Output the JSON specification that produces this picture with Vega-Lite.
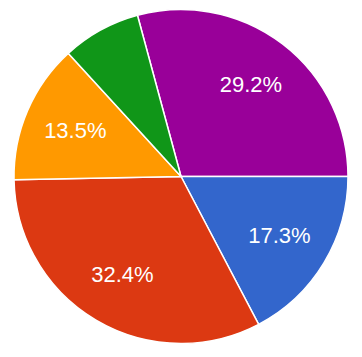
{
  "$schema": "https://vega.github.io/schema/vega-lite/v6.json",
  "width": 362,
  "height": 357,
  "autosize": {"type": "fit", "contains": "padding"},
  "padding": {"top": 0, "left": 0, "right": 0, "bottom": 4},
  "background": "white",
  "config": {"view": {"stroke": null}},
  "data": {
    "values": [
      {"idx": 1, "slice": "A", "value": 0.292},
      {"idx": 2, "slice": "B", "value": 0.173},
      {"idx": 3, "slice": "C", "value": 0.324},
      {"idx": 4, "slice": "D", "value": 0.135},
      {"idx": 5, "slice": "E", "value": 0.076}
    ]
  },
  "encoding": {
    "theta": {
      "field": "value",
      "type": "quantitative",
      "stack": true,
      "scale": {"range": [-0.2639, 6.0193]}
    },
    "order": {"field": "idx", "type": "quantitative"},
    "color": {
      "field": "slice",
      "type": "nominal",
      "legend": null,
      "scale": {
        "domain": ["A", "B", "C", "D", "E"],
        "range": ["#990099", "#3366cc", "#dc3912", "#ff9900", "#109618"]
      }
    }
  },
  "layer": [
    {
      "mark": {"type": "arc", "outerRadius": 167, "stroke": "white", "strokeWidth": 1.5}
    },
    {
      "mark": {
        "type": "text",
        "radius": 115,
        "fill": "white",
        "font": "Liberation Sans",
        "fontSize": 22,
        "baseline": "middle"
      },
      "encoding": {
        "text": {"field": "value", "type": "quantitative", "format": ".1%"},
        "color": {"value": "white"},
        "opacity": {"condition": {"test": "datum.value < 0.1", "value": 0}, "value": 1}
      }
    }
  ]
}
